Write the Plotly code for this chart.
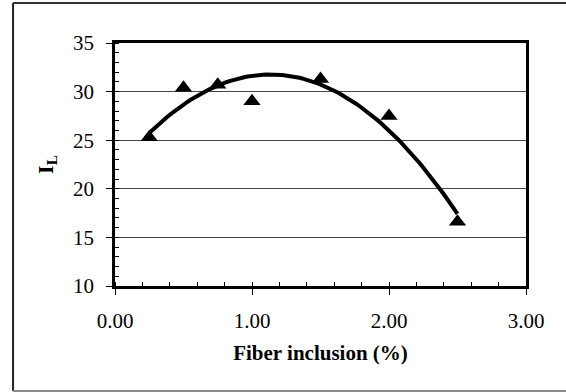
import numpy as np
import plotly.graph_objects as go

fiber = [0.25, 0.5, 0.75, 1.0, 1.5, 2.0, 2.5]
il = [25.3, 30.4, 30.7, 29.0, 31.3, 27.5, 16.6]
x_ticks = [0, 1, 2, 3]
x_ticktext = ["0.00", "1.00", "2.00", "3.00"]

# second-order polynomial trendline (as in the original spreadsheet chart), fitted from the data
coef = np.polyfit(fiber, il, 2)
xfit = np.linspace(min(fiber), max(fiber), 120)
yfit = np.polyval(coef, xfit)

fig = go.Figure()
fig.add_trace(go.Scatter(x=xfit, y=yfit, mode="lines",
                         line=dict(color="black", width=4), hoverinfo="skip"))
fig.add_trace(go.Scatter(x=fiber, y=il, mode="markers",
                         marker=dict(symbol="triangle-up", size=15, color="black")))

font = "Liberation Serif"
fig.update_layout(
    width=566, height=392,
    margin=dict(l=115, r=40, t=43, b=106),
    paper_bgcolor="white", plot_bgcolor="white",
    showlegend=False,
    font=dict(family=font, size=21, color="black"),
    xaxis=dict(range=[0, 3], tickvals=x_ticks, ticktext=x_ticktext,
               tickfont=dict(family=font, size=21),
               showgrid=False, zeroline=False, showline=True, linecolor="black", linewidth=2.5,
               mirror=True, ticks="outside", ticklen=6, tickcolor="black",
               ticklabelstandoff=8,
               minor=dict(dtick=0.2, ticks="inside", ticklen=4, tickcolor="black", showgrid=False),
               title=dict(text="<b>Fiber inclusion (%)</b>", font=dict(family=font, size=21),
                          standoff=14)),
    yaxis=dict(range=[10, 35], dtick=5, showgrid=True, gridcolor="#444444", gridwidth=1,
               tickfont=dict(family=font, size=21),
               zeroline=False, showline=True, linecolor="black", linewidth=2.5, mirror=True,
               ticks="outside", ticklen=6, tickcolor="black", ticklabelstandoff=8,
               minor=dict(dtick=1, ticks="inside", ticklen=4, tickcolor="black", showgrid=False),
               title=dict(text="<b>I<sub>L</sub></b>", font=dict(family=font, size=22),
                          standoff=14)),
)
# outer chart-area frame (right edge lies outside the picture)
fig.add_shape(type="line", xref="paper", yref="paper", x0=-0.248, x1=1.2, y0=1.165, y1=1.165,
              line=dict(color="#333333", width=2))
fig.add_shape(type="line", xref="paper", yref="paper", x0=-0.248, x1=-0.248, y0=-0.432, y1=1.165,
              line=dict(color="#222222", width=2))
fig.add_shape(type="line", xref="paper", yref="paper", x0=-0.248, x1=1.2, y0=-0.432, y1=-0.432,
              line=dict(color="#8a8a8a", width=2))
fig.write_html("out.html", config={"displayModeBar": False},
               post_script="document.body.style.margin='0';")
